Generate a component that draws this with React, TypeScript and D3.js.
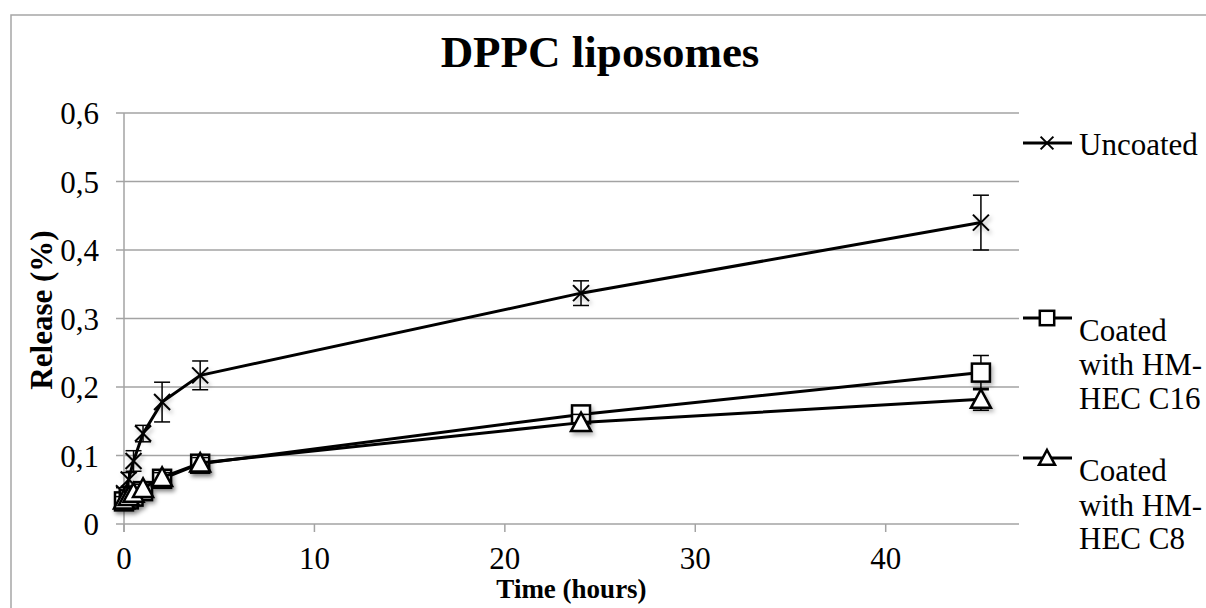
import React from "react";
import * as d3 from "d3";

const times = [0, 0.25, 0.5, 1, 2, 4, 24, 45];
const uncoated = [0.045, 0.065, 0.092, 0.132, 0.178, 0.217, 0.337, 0.44];
const uncoatedErr = [0.008, 0.01, 0.015, 0.012, 0.029, 0.021, 0.018, 0.04];
const c16 = [0.033, 0.036, 0.04, 0.048, 0.066, 0.088, 0.16, 0.221];
const c16Err = [0.005, 0.005, 0.005, 0.006, 0.007, 0.008, 0.01, 0.025];
const c8 = [0.035, 0.04, 0.045, 0.052, 0.068, 0.089, 0.148, 0.182];
const c8Err = [0.005, 0.005, 0.005, 0.006, 0.007, 0.008, 0.012, 0.016];
const xTicks = [0, 10, 20, 30, 40];
const yTicks = [0, 0.1, 0.2, 0.3, 0.4, 0.5, 0.6];

const title = "DPPC liposomes";
const xTitle = "Time (hours)";
const yTitle = "Release (%)";

const seriesList = [
  { name: ["Uncoated"], values: uncoated, err: uncoatedErr, marker: "x" },
  { name: ["Coated", "with HM-", "HEC C16"], values: c16, err: c16Err, marker: "square" },
  { name: ["Coated", "with HM-", "HEC C8"], values: c8, err: c8Err, marker: "triangle" },
];

const FONT = "'Liberation Serif', 'Times New Roman', 'DejaVu Serif', serif";
const GRID = "#a3a3a3";

function Marker({ type, x, y, s = 1 }: { type: string; x: number; y: number; s?: number }) {
  if (type === "x") {
    const r = 8 * s;
    return (
      <g stroke="#000" strokeWidth={2}>
        <line x1={x - r} y1={y - r} x2={x + r} y2={y + r} />
        <line x1={x - r} y1={y + r} x2={x + r} y2={y - r} />
      </g>
    );
  }
  if (type === "square") {
    const r = 9 * s;
    return <rect x={x - r} y={y - r} width={2 * r} height={2 * r} fill="#fff" stroke="#000" strokeWidth={2.5} />;
  }
  const r = 10 * s;
  return (
    <path
      d={`M${x},${y - r} L${x + r},${y + r * 0.85} L${x - r},${y + r * 0.85} Z`}
      fill="#fff"
      stroke="#000"
      strokeWidth={2.5}
    />
  );
}

export default function App() {
  const W = 1206;
  const H = 608;
  const left = 124;
  const right = 1019;
  const top = 113;
  const bottom = 524;

  const x = d3.scaleLinear().domain([0, 47]).range([left, right]);
  const y = d3.scaleLinear().domain([0, 0.6]).range([bottom, top]);

  const line = d3
    .line<number>()
    .x((_, i) => x(times[i]))
    .y((d) => y(d))
    .curve(d3.curveLinear);

  const legendRows = [
    { ly: 143, tys: [155] },
    { ly: 318, tys: [341, 375, 409] },
    { ly: 458, tys: [481, 516, 549] },
  ];

  return (
    <svg
      width={W}
      height={H}
      style={{ position: "absolute", left: 0, top: 0, background: "#fff", fontFamily: FONT }}
    >
      <defs>
        <filter id="shadow" x="-50%" y="-50%" width="200%" height="200%">
          <feDropShadow dx="2" dy="3" stdDeviation="2.2" floodColor="#000" floodOpacity="0.3" />
        </filter>
      </defs>
      <rect x={0} y={0} width={W} height={H} fill="#fff" />
      <rect x={11} y={15} width={1300} height={800} fill="none" stroke="#a6a6a6" strokeWidth={1.5} />

      <text x={600} y={67} textAnchor="middle" fontSize={45} fontWeight="bold">
        {title}
      </text>

      {yTicks.map((t) => (
        <g key={t}>
          <line x1={left - 8} x2={right} y1={y(t)} y2={y(t)} stroke={GRID} strokeWidth={1.5} />
          <text x={99} y={y(t) + 11} textAnchor="end" fontSize={31}>
            {String(t).replace(".", ",")}
          </text>
        </g>
      ))}
      <line x1={left} x2={left} y1={top} y2={bottom + 8} stroke={GRID} strokeWidth={1.5} />
      {xTicks.map((t) => (
        <g key={t}>
          <line x1={x(t)} x2={x(t)} y1={bottom} y2={bottom + 8} stroke={GRID} strokeWidth={1.5} />
          <text x={x(t)} y={569} textAnchor="middle" fontSize={31}>
            {t}
          </text>
        </g>
      ))}

      <text x={(left + right) / 2} y={598} textAnchor="middle" fontSize={27} fontWeight="bold">
        {xTitle}
      </text>
      <text
        transform={`translate(52, 310) rotate(-90)`}
        textAnchor="middle"
        fontSize={31}
        fontWeight="bold"
      >
        {yTitle}
      </text>

      {seriesList.map((s, si) => (
        <g key={si}>
          <path d={line(s.values) || ""} fill="none" stroke="#000" strokeWidth={3} strokeLinejoin="round" />
          {s.values.map((v, i) => {
            const cx = x(times[i]);
            return (
              <g key={i} stroke="#000" strokeWidth={1.5}>
                <line x1={cx} x2={cx} y1={y(v - s.err[i])} y2={y(v + s.err[i])} />
                <line x1={cx - 8} x2={cx + 8} y1={y(v + s.err[i])} y2={y(v + s.err[i])} />
                <line x1={cx - 8} x2={cx + 8} y1={y(v - s.err[i])} y2={y(v - s.err[i])} />
              </g>
            );
          })}
          <g filter="url(#shadow)">
            {s.values.map((v, i) => (
              <Marker key={i} type={s.marker} x={x(times[i])} y={y(v)} />
            ))}
          </g>
        </g>
      ))}

      {seriesList.map((s, si) => {
        const r = legendRows[si];
        return (
          <g key={si}>
            <line x1={1023} x2={1072} y1={r.ly} y2={r.ly} stroke="#000" strokeWidth={3} />
            <Marker type={s.marker} x={1047} y={r.ly} s={0.8} />
            {s.name.map((n, k) => (
              <text key={k} x={1079} y={r.tys[k]} fontSize={31}>
                {n}
              </text>
            ))}
          </g>
        );
      })}
    </svg>
  );
}
